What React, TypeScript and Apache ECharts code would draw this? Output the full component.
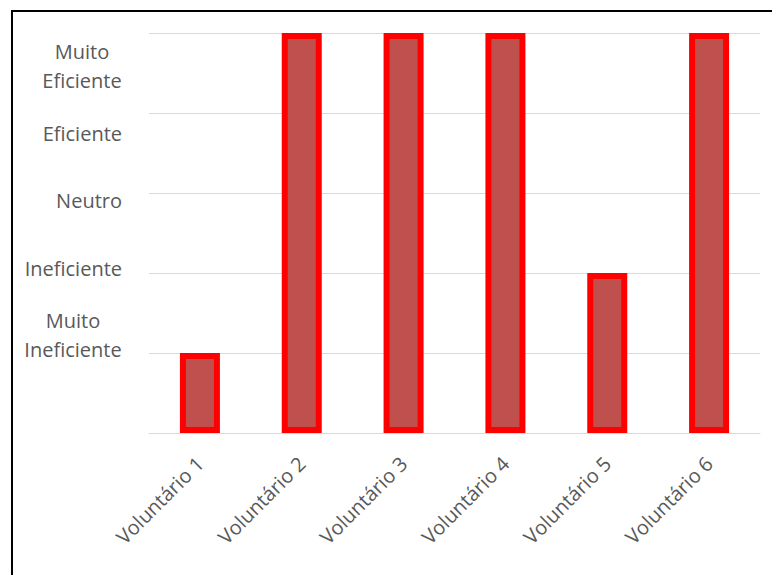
import React, { useEffect, useRef } from "react";
import * as echarts from "echarts";

const volunteers = ["Voluntário 1", "Voluntário 2", "Voluntário 3", "Voluntário 4", "Voluntário 5", "Voluntário 6"];
const ratings = [1, 5, 5, 5, 2, 5];
const ratingLabels = ["Muito Ineficiente", "Ineficiente", "Neutro", "Eficiente", "Muito Eficiente"];

const FONT = "'Open Sans', sans-serif";
const FONT_SIZE = 20;
const TEXT_COLOR = "#595959";

function measure(text: string): number {
  const ctx = document.createElement("canvas").getContext("2d");
  if (!ctx) return text.length * FONT_SIZE * 0.5;
  ctx.font = `${FONT_SIZE}px 'Open Sans'`;
  return Math.ceil(ctx.measureText(text).width);
}

export default function App() {
  const ref = useRef<HTMLDivElement>(null);

  useEffect(() => {
    if (!ref.current) return;
    const chart = echarts.init(ref.current, null, { renderer: "svg" });

    // two-line labels: each line centered inside a box as wide as the longest line
    const rich: Record<string, any> = {};
    const formatLabel = (label: string, idx: number) => {
      const words = label.split(" ");
      if (words.length < 2) return label;
      const key = `l${idx}`;
      const w = Math.max(...words.map(measure));
      rich[key] = {
        width: w,
        align: "center",
        fontSize: FONT_SIZE,
        fontFamily: FONT,
        color: TEXT_COLOR,
        lineHeight: 29,
      };
      return words.map((wd) => `{${key}|${wd}}`).join("\n");
    };
    const formatted = ratingLabels.map(formatLabel);

    chart.setOption({
      animation: false,
      backgroundColor: "#ffffff",
      grid: [
        { left: 149, right: 12, top: 33, bottom: 142 },
        { left: 149, right: 12, top: 32.5, height: 336.5 },
      ],
      xAxis: [
        {
          type: "category",
          gridIndex: 0,
          data: volunteers,
          axisLine: { show: true, lineStyle: { color: "#d9d9d9", width: 1 } },
          axisTick: { show: false },
          axisLabel: {
            rotate: 45,
            margin: 27,
            color: TEXT_COLOR,
            fontSize: FONT_SIZE,
            fontFamily: FONT,
            interval: 0,
          },
        },
        { type: "value", gridIndex: 1, show: false },
      ],
      yAxis: [
        {
          type: "value",
          gridIndex: 0,
          min: 0,
          max: 5,
          interval: 1,
          axisLine: { show: false },
          axisTick: { show: false },
          axisLabel: { show: false },
          splitLine: { lineStyle: { color: "#d9d9d9", width: 1 } },
        },
        {
          type: "category",
          gridIndex: 1,
          data: ratingLabels,
          axisLine: { show: false },
          axisTick: { show: false },
          splitLine: { show: false },
          axisLabel: {
            margin: 27,
            color: TEXT_COLOR,
            fontSize: FONT_SIZE,
            fontFamily: FONT,
            lineHeight: 29,
            formatter: (_v: string, i: number) => formatted[i],
            rich,
          },
        },
      ],
      series: [
        {
          type: "bar",
          xAxisIndex: 0,
          yAxisIndex: 0,
          data: ratings,
          barWidth: 40,
          itemStyle: {
            color: "#C0504D",
            borderColor: "#FF0000",
            borderWidth: 6,
          },
        },
      ],
      graphic: [
        {
          type: "rect",
          shape: { x: 12, y: 11, width: 800, height: 600 },
          style: { fill: "none", stroke: "#000000", lineWidth: 2 },
          silent: true,
        },
      ],
    });

    return () => chart.dispose();
  }, []);

  return (
    <div
      ref={ref}
      style={{ position: "absolute", left: 0, top: 0, width: 772, height: 575 }}
    />
  );
}
